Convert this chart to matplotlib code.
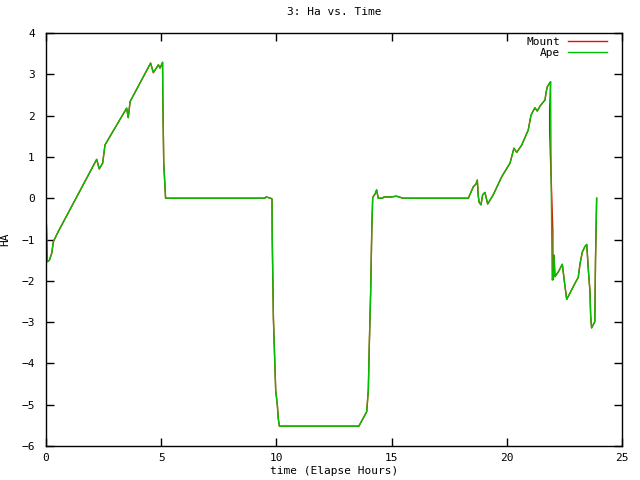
import matplotlib
matplotlib.use('Agg')
import matplotlib.pyplot as plt

# Ape: hour angle vs elapsed time
ape_t = [0.0, 0.02, 0.04, 0.06, 0.15, 0.25, 0.32, 0.53, 2.2, 2.31, 2.46, 2.56,
         3.5, 3.57, 3.65, 4.54, 4.66, 4.88, 4.95, 5.06, 5.07, 5.11, 5.19,
         9.5, 9.55, 9.75, 9.81, 9.82, 9.87, 9.94, 9.97, 10.04, 10.08, 10.13,
         13.58, 13.92, 13.99, 14.03, 14.09, 14.14, 14.18, 14.28, 14.35, 14.42,
         14.6, 14.67, 15.0, 15.2, 15.5, 18.33, 18.55, 18.66, 18.72, 18.76, 18.8,
         18.88, 18.95, 19.05, 19.17, 19.41, 19.78, 20.14, 20.31, 20.43, 20.65,
         20.93, 21.05, 21.22, 21.32, 21.44, 21.66, 21.7, 21.76, 21.9, 21.92,
         21.94, 21.95, 21.97, 22.02, 22.05, 22.09, 22.24, 22.41, 22.5, 22.6,
         22.74, 22.96, 23.1, 23.18, 23.28, 23.39, 23.47, 23.54, 23.61, 23.64,
         23.68, 23.82, 23.85, 23.9]
ape_ha = [-0.42, -0.69, -1.25, -1.54, -1.5, -1.33, -1.05, -0.81, 0.94, 0.71, 0.85, 1.29,
          2.18, 1.95, 2.34, 3.27, 3.04, 3.23, 3.15, 3.29, 2.45, 0.85, 0.0,
          0.0, 0.03, 0.0, -0.02, -0.99, -2.91, -4.14, -4.66, -5.0, -5.33, -5.52,
          -5.52, -5.17, -4.64, -3.6, -2.3, -0.77, 0.02, 0.1, 0.2, 0.0,
          0.0, 0.03, 0.03, 0.05, 0.0, 0.0, 0.28, 0.34, 0.44, 0.06, -0.1,
          -0.16, 0.08, 0.14, -0.14, 0.08, 0.52, 0.85, 1.21, 1.11, 1.29,
          1.65, 2.01, 2.19, 2.11, 2.23, 2.38, 2.55, 2.7, 2.82, 0.84,
          -0.28, -0.9, -1.98, -1.93, -1.38, -1.9, -1.78, -1.6, -2.02, -2.45,
          -2.3, -2.06, -1.92, -1.58, -1.3, -1.17, -1.12, -1.74, -2.26, -2.85,
          -3.14, -2.99, -1.5, 0.0]

# Mount follows Ape except around the big drop near 22 h
mount_drop_t = [21.9, 21.86, 21.86, 22.0, 22.0]
mount_drop_ha = [2.82, 2.15, 1.6, -0.82, -1.98]

mount_t = [t for t in ape_t if t < 21.9] + mount_drop_t + [t for t in ape_t if t > 22.0]
mount_ha = ([h for t, h in zip(ape_t, ape_ha) if t < 21.9] + mount_drop_ha
            + [h for t, h in zip(ape_t, ape_ha) if t > 22.0])

plt.rcParams['font.family'] = 'DejaVu Sans Mono'
plt.rcParams['font.size'] = 8

fig = plt.figure(figsize=(6.4, 4.8), dpi=100)
ax = fig.add_axes([46 / 640, 1 - 446 / 480, 576 / 640, 413 / 480])

ax.plot(mount_t, mount_ha, color='#ff0000', lw=1.0, label='Mount')
ax.plot(ape_t, ape_ha, color='#00c000', lw=1.0, label='Ape')

ax.set_xlim(0, 25)
ax.set_ylim(-6, 4)
ax.set_xticks(range(0, 26, 5))
ax.set_yticks(range(-6, 5))
ax.tick_params(direction='in', length=6, width=1, top=True, right=True)
ax.tick_params(axis='x', pad=5)
ax.tick_params(axis='y', pad=8)
for s in ax.spines.values():
    s.set_linewidth(1)

ax.set_title('3: Ha vs. Time', fontsize=8, pad=13)
ax.set_xlabel('time (Elapse Hours)', labelpad=2)
ax.set_ylabel('HA')
ax.yaxis.set_label_coords(-36 / 576, 0.5)

ax.legend(frameon=False, markerfirst=False, loc='upper right',
          bbox_to_anchor=(1 - 15 / 576, 1 - 4 / 413),
          handlelength=3.5, borderaxespad=0.0, labelspacing=0.05,
          borderpad=0.0, handletextpad=0.7)

fig.savefig('out.png', dpi=100)
